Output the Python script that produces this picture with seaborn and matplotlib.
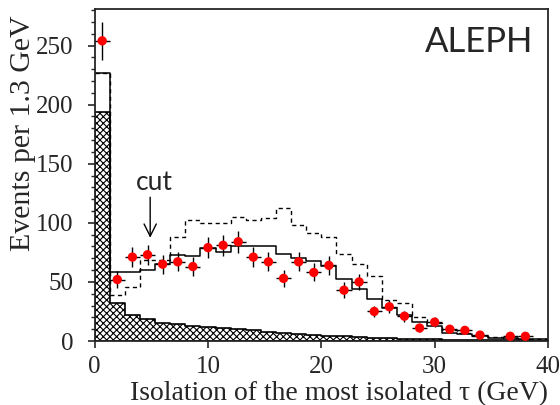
import numpy as np
import pandas as pd
import seaborn as sns
import matplotlib.pyplot as plt
from matplotlib.ticker import MultipleLocator

sns.set_style('ticks')
plt.rcParams['font.family'] = ['Liberation Serif', 'DejaVu Serif']
plt.rcParams['hatch.color'] = 'black'
plt.rcParams['hatch.linewidth'] = 0.8

# 30 bins from 0 to 40 GeV
edges = np.linspace(0, 40, 31)
centers = 0.5 * (edges[:-1] + edges[1:])

data = [254, 52, 71, 73, 65, 67, 63, 79, 81, 84, 71, 67, 53, 67, 58,
        64, 43, 50, 25, 29, 21, 11, 16, 10, 9, 5, 0, 4, 4, 0]
mc_total = [227, 58, 58, 60, 65, 73, 72, 79, 75.7, 80.5, 80.5, 80.5, 73.7, 70, 67.8,
            63.6, 52.3, 44, 35.6, 27.7, 22, 16.4, 13, 7, 5.6, 4.2, 2.8, 2.5, 2, 1.5]
mc_alt = [227, 39, 45.5, 68.3, 68.3, 88.4, 102.3, 99.7, 99.7, 104.8, 102, 104.5, 112.4, 98, 91.2,
          87.8, 73.5, 65.3, 55.2, 34.5, 32, 20.6, 15.5, 9.5, 6.5, 4.5, 3, 2.5, 2, 1.5]
background = [194, 32.5, 22, 18.4, 15.5, 14.1, 12.7, 11.9, 10.7, 10.2, 9.3, 7.9, 7.0, 5.9, 5.1,
              4.6, 4.0, 3.4, 2.8, 2.3, 2.0, 1.7, 1.4, 1.2, 1.0, 0.8, 0.7, 0.6, 0.5, 0.4]

df = pd.DataFrame({'x': centers, 'data': data, 'total': mc_total,
                   'alt': mc_alt, 'bkg': background})

fig = plt.figure(figsize=(5.6, 4.05), dpi=100)
ax = fig.add_axes([0.169, 0.158, 0.8096, 0.82])

hist_kw = dict(bins=len(centers), binrange=(edges[0], edges[-1]), element='step', ax=ax)

# hatched background
sns.histplot(data=df, x='x', weights='bkg', fill=True, color='black', alpha=1,
             linewidth=1.2, **hist_kw)
poly = ax.collections[-1]
poly.set_facecolor('white')
poly.set_edgecolor('black')
poly.set_hatch('xxxxx')

# total MC (solid) and alternative (dashed)
sns.histplot(data=df, x='x', weights='total', fill=False, color='black',
             linewidth=1.1, **hist_kw)
sns.histplot(data=df, x='x', weights='alt', fill=False, color='black',
             linewidth=1.0, linestyle=(0, (3, 2.5)), **hist_kw)

# data points
pts = df[df['data'] > 0]
ax.errorbar(pts['x'], pts['data'], yerr=np.sqrt(pts['data']), xerr=20 / 30,
            fmt='none', ecolor='black', elinewidth=1, zorder=4)
sns.scatterplot(data=pts, x='x', y='data', color='red', s=45, edgecolor='none',
                zorder=5, ax=ax)

ax.set_xlim(0, 40)
ax.set_ylim(0, 281)
ax.xaxis.set_major_locator(MultipleLocator(10))
ax.yaxis.set_major_locator(MultipleLocator(50))
ax.yaxis.set_minor_locator(MultipleLocator(10))
ax.tick_params(axis='both', which='major', direction='out', length=5, width=1.2,
               labelsize=18)
ax.tick_params(axis='y', which='major', pad=10)
ax.tick_params(axis='x', which='major', pad=6)
ax.tick_params(axis='y', which='minor', direction='out', length=3, width=1)
for s in ax.spines.values():
    s.set_linewidth(1.3)

ax.set_xlabel('Isolation of the most isolated τ (GeV)', fontsize=20, loc='right', labelpad=2)
ax.set_ylabel('Events per 1.3 GeV', fontsize=21.5)
ax.yaxis.set_label_coords(-0.13, 0.627)

ax.text(38.7, 253, 'ALEPH', fontsize=25, family='Lato', ha='right', va='center')
ax.text(5.3, 134, 'cut', fontsize=19, family='Lato', ha='center', va='center')
ax.annotate('', xy=(4.9, 85), xytext=(4.9, 124),
            arrowprops=dict(arrowstyle='->', color='black', lw=1, mutation_scale=22))

fig.savefig('out.png', dpi=100)
